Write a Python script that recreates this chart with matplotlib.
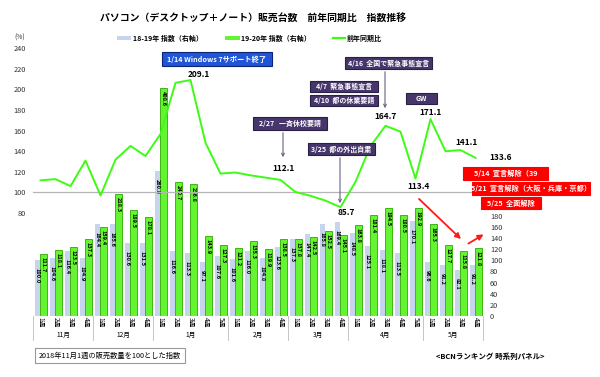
import matplotlib.pyplot as plt
import matplotlib.transforms as mtransforms
import numpy as np
from matplotlib.patches import Rectangle, FancyArrowPatch
from matplotlib.lines import Line2D

plt.rcParams['font.family'] = ['Noto Sans CJK JP', 'DejaVu Sans']

# data
months = ['11月', '12月', '1月', '2月', '3月', '4月', '5月']
weeks_per_month = [4, 4, 5, 4, 4, 5, 4]
idx_1819 = [100.0, 104.6, 116.4, 104.9, 164.4, 165.6, 130.6, 131.5,
            260.8, 116.6, 113.3, 97.1, 107.6, 101.6, 116.0, 104.8, 123.6,
            137.3, 147.4, 165.8, 169.4, 148.5, 125.1, 118.1, 113.5, 170.1,
            96.6, 91.2, 82.1, 91.2]
idx_1920 = [111.7, 118.1, 123.5, 137.3, 159.4, 218.3, 189.5, 178.1,
            408.6, 240.7, 236.8, 143.9, 127.3, 121.2, 135.3, 119.9, 138.5,
            137.8, 142.5, 152.5, 145.1, 163.8, 181.4, 194.5, 180.5, 192.9,
            165.3, 127.7, 115.8, 121.8]
yoy = [111.7, 112.9, 106.1, 130.9, 97.0, 131.8, 145.1, 135.4,
       156.7, 206.4, 209.1, 148.2, 118.3, 119.3, 116.6, 114.4, 112.1,
       100.4, 96.7, 92.0, 85.7, 110.3, 145.0, 164.7, 159.0, 113.4,
       171.1, 140.0, 141.1, 133.6]

W, H = 600, 377


def fx(x):
    return x / W


def fy(y):
    return 1 - y / H


fig = plt.figure(figsize=(6, 3.77), dpi=100)
ax = fig.add_axes([fx(33), fy(316), 450 / W, 276 / H])
ax2 = ax.twinx()

x = np.arange(len(idx_1819))
ax.bar(x - 0.2, idx_1819, width=0.36, color='#c6d4ee', zorder=2)
ax.bar(x + 0.2, idx_1920, width=0.44, color='#62f530', edgecolor='#2fa800',
       linewidth=0.6, zorder=3)
for xi, v in zip(x, idx_1819):
    ax.annotate(f'{v:.1f}', xy=(xi - 0.2, v), xytext=(0, -8), textcoords='offset pixels',
                rotation=270, ha='center', va='top', fontsize=4, fontweight='bold', zorder=4)
for xi, v in zip(x, idx_1920):
    ax.annotate(f'{v:.1f}', xy=(xi + 0.2, v), xytext=(0, -3), textcoords='offset pixels',
                rotation=270, ha='center', va='top', fontsize=4, fontweight='bold', zorder=4)

ax2.axhline(100, color='#b5b5b5', lw=0.9, zorder=1)
ax2.plot(x, yoy, color='#3dfc14', lw=1.4, zorder=3)

ax.set_xlim(-0.5, len(x) - 0.5)
ax.set_ylim(0, 495)
ax2.set_ylim(-20, 248)
ax.yaxis.tick_right()
ax2.yaxis.tick_left()
ax.set_yticks(range(0, 181, 20))
ax2.set_yticks(range(80, 241, 20))
ax.set_xticks([])
for a in (ax, ax2):
    a.tick_params(length=0, labelsize=5.3, pad=5, colors='#333333')
    for s in a.spines.values():
        s.set_visible(False)

# two-level x labels
trans = mtransforms.blended_transform_factory(ax.transData, ax.transAxes)
start = 0
bounds = [-0.5]
for m, n in zip(months, weeks_per_month):
    for w in range(n):
        ax.text(start + w, -0.024, f'{w + 1}週', transform=trans, rotation=270,
                ha='center', va='center', fontsize=4.8)
    ax.text(start + (n - 1) / 2, -0.07, m, transform=trans, ha='center', va='center',
            fontsize=4.8)
    start += n
    bounds.append(start - 0.5)
for b in bounds:
    ax.plot([b, b], [0, -0.087], transform=trans, color='#bbbbbb', lw=0.6, clip_on=False)

# labels on the year-on-year line
line_labels = {10: (8, 6), 16: (3, 11), 20: (6, -5), 23: (0, 9), 25: (3, -8),
               26: (0, 7), 28: (6, 8), 29: (14, 0)}
for i, (dx, dy) in line_labels.items():
    ax2.annotate(f'{yoy[i]:.1f}', xy=(i, yoy[i]), xytext=(dx, dy), textcoords='offset pixels',
                 ha='left' if i == 29 else 'center', va='center', fontsize=6,
                 fontweight='bold', zorder=6)

# title and legend
fig.text(fx(253), fy(18), 'パソコン（デスクトップ＋ノート）販売台数　前年同期比　指数推移',
         ha='center', va='center', fontsize=7.1, fontweight='bold')
fig.text(fx(20), fy(38), '(%)', ha='center', va='center', fontsize=4.8, color='#333333')
fig.add_artist(Rectangle((fx(117), fy(40)), 14 / W, 4 / H, transform=fig.transFigure,
                         facecolor='#c6d4ee', edgecolor='none'))
fig.text(fx(133), fy(38), '18-19年 指数（右軸）', ha='left', va='center', fontsize=5,
         fontweight='bold')
fig.add_artist(Rectangle((fx(225), fy(40)), 15 / W, 4 / H, transform=fig.transFigure,
                         facecolor='#62f530', edgecolor='none'))
fig.text(fx(241), fy(38), '19-20年 指数（右軸）', ha='left', va='center', fontsize=5,
         fontweight='bold')
fig.add_artist(Line2D([fx(333), fx(345)], [fy(38), fy(38)], transform=fig.transFigure,
                      color='#3dfc14', lw=1.6))
fig.text(fx(347), fy(38), '前年同期比', ha='left', va='center', fontsize=5, fontweight='bold')


def box(x0, y0, x1, y1, text, fc, ec, fs=5.0):
    fig.add_artist(Rectangle((fx(x0), fy(y1)), (x1 - x0) / W, (y1 - y0) / H,
                             transform=fig.transFigure, facecolor=fc, edgecolor=ec,
                             lw=0.8, zorder=5))
    fig.text(fx((x0 + x1) / 2), fy((y0 + y1) / 2), text, ha='center', va='center',
             color='white', fontsize=fs, fontweight='bold', zorder=6)


def arrow(p0, p1, color, lw, scale):
    fig.add_artist(FancyArrowPatch((fx(p0[0]), fy(p0[1])), (fx(p1[0]), fy(p1[1])),
                                   transform=fig.transFigure, arrowstyle='->' if scale < 7 else '-|>',
                                   color=color, lw=lw, mutation_scale=scale, zorder=5))


purple, purple_ec = '#47366b', '#2a1f44'
box(162, 52, 272, 66, '1/14 Windows 7サポート終了', '#1f55d6', '#0b2478', 5.2)
box(253, 117, 327, 130, '2/27   一斉休校要請', purple, purple_ec)
box(345, 57, 432, 69, '4/16  全国で緊急事態宣言', purple, purple_ec)
box(310, 81, 378, 92, '4/7  緊急事態宣言', purple, purple_ec)
box(310, 95, 378, 106, '4/10  都の休業要請', purple, purple_ec)
box(308, 143, 375, 155, '3/25  都の外出自粛', purple, purple_ec)
box(406, 93, 437, 104, 'GW', purple, purple_ec)
arrow((283, 130), (283, 160), '#6b5f80', 0.8, 5)
arrow((385, 69), (385, 111), '#6b5f80', 0.8, 5)
arrow((340, 155), (340, 206), '#6b5f80', 0.8, 5)

box(463, 167, 548, 180, '5/14  宣言解除（39', '#ff0000', '#ff0000', 5.2)
box(472, 182, 590, 195, '5/21  宣言解除（大阪・兵庫・京都）', '#ff0000', '#ff0000', 5.2)
box(481, 197, 541, 209, '5/25  全面解除', '#ff0000', '#ff0000', 5.2)
arrow((417, 197), (463, 241), '#ff1a1a', 1.3, 8)
arrow((466, 245), (486, 233), '#ff1a1a', 1.3, 8)

# footnotes
fig.add_artist(Rectangle((fx(35), fy(363)), 150 / W, 15 / H, transform=fig.transFigure,
                         facecolor='white', edgecolor='#999999', lw=0.8))
fig.text(fx(110), fy(355.5), '2018年11月1週の販売数量を100とした指数', ha='center',
         va='center', fontsize=5.2)
fig.text(fx(490), fy(356), '<BCNランキング 時系列パネル>', ha='center', va='center',
         fontsize=5.4, fontweight='bold')

fig.savefig('out.png', dpi=100)
